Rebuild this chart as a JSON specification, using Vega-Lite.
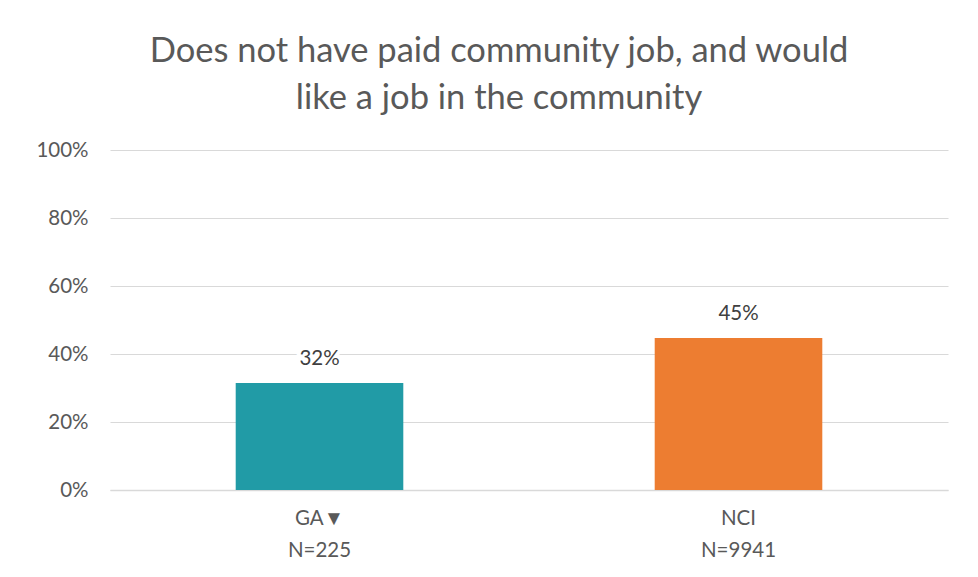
{
  "$schema": "https://vega.github.io/schema/vega-lite/v6.json",
  "autosize": "none",
  "width": 838,
  "height": 340,
  "padding": {"left": 110, "top": 150, "right": 30, "bottom": 87},
  "background": "white",
  "config": {"view": {"stroke": null}, "font": "Lato"},
  "title": {
    "text": ["Does not have paid community job, and would", "like a job in the community"],
    "font": "Lato",
    "fontSize": 34.5,
    "fontWeight": "normal",
    "color": "#595959",
    "anchor": "middle",
    "dx": -30,
    "offset": 24,
    "lineHeight": 47
  },
  "data": {
    "values": [
      {"group": "GA▼|N=225", "value": 0.315, "label": "32%"},
      {"group": "NCI|N=9941", "value": 0.447, "label": "45%"}
    ]
  },
  "encoding": {
    "x": {
      "field": "group",
      "type": "nominal",
      "sort": null,
      "scale": {"paddingInner": 0.6, "paddingOuter": 0.3},
      "axis": {
        "title": null,
        "labelAngle": 0,
        "labelExpr": "split(datum.label, '|')",
        "labelFontSize": 20.5,
        "labelColor": "#595959",
        "labelLineHeight": 32,
        "labelPadding": 18,
        "ticks": false,
        "domainColor": "#d9d9d9",
        "domainWidth": 1.5
      }
    },
    "y": {
      "field": "value",
      "type": "quantitative",
      "scale": {"domain": [0, 1]},
      "axis": {
        "title": null,
        "format": ".0%",
        "values": [0, 0.2, 0.4, 0.6, 0.8, 1],
        "labelFontSize": 20.5,
        "labelColor": "#595959",
        "labelPadding": 22,
        "ticks": false,
        "domain": false,
        "gridColor": "#d9d9d9",
        "gridWidth": 1.2
      }
    }
  },
  "layer": [
    {
      "mark": {"type": "bar"},
      "encoding": {
        "color": {
          "field": "group",
          "type": "nominal",
          "scale": {"range": ["#219BA6", "#ED7D31"]},
          "legend": null
        }
      }
    },
    {
      "mark": {"type": "text", "baseline": "alphabetic", "dy": -18, "fontSize": 20.5, "stroke": "white", "strokeWidth": 8, "fill": "white"},
      "encoding": {"text": {"field": "label"}}
    },
    {
      "mark": {"type": "text", "baseline": "alphabetic", "dy": -18, "fontSize": 20.5, "color": "#404040"},
      "encoding": {"text": {"field": "label"}}
    }
  ]
}
